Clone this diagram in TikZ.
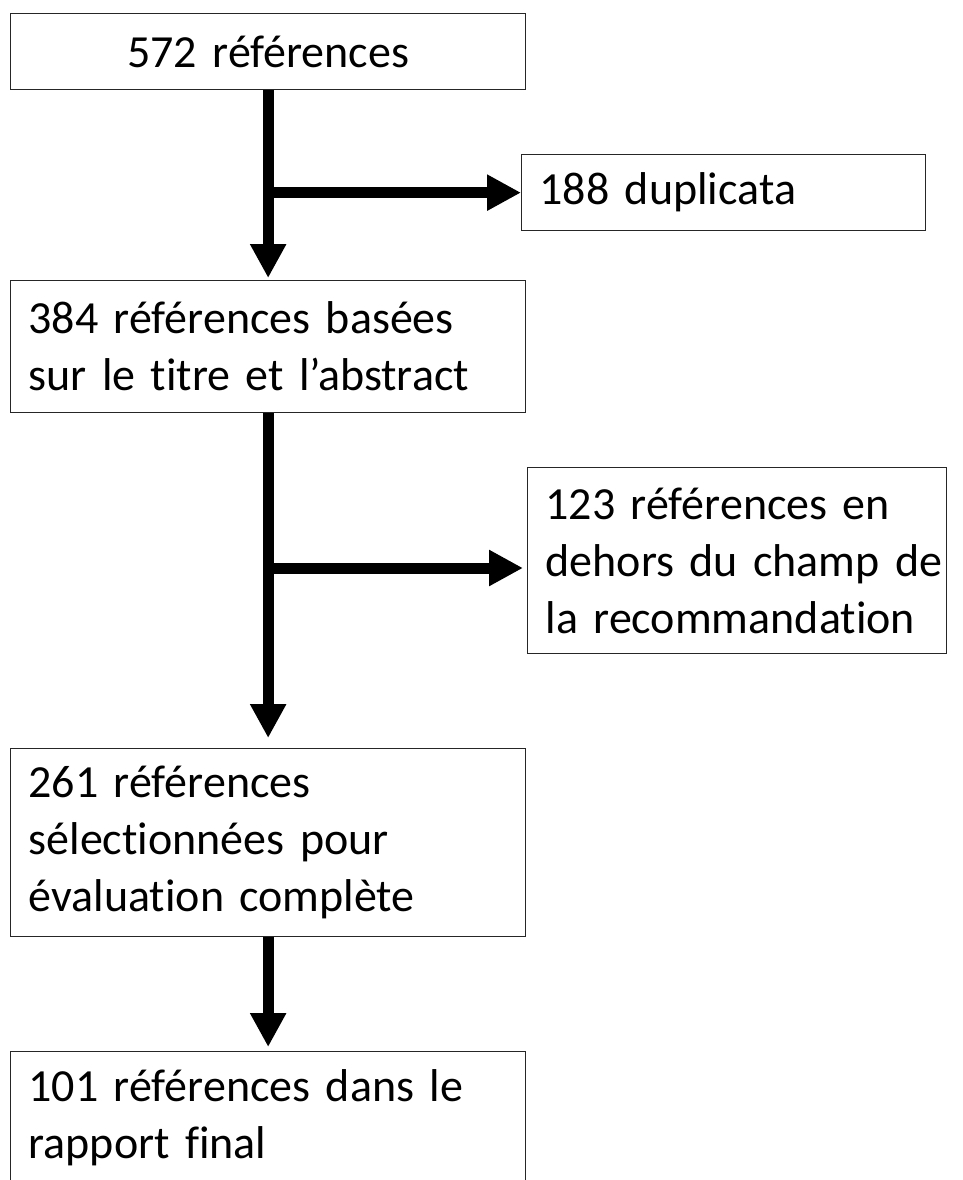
\documentclass[tikz,border=0pt]{standalone}
\usepackage{fontspec}
\setmainfont{Carlito}[Ligatures=NoCommon]
\usetikzlibrary{arrows.meta}
\newcommand\boxfont{\fontsize{46}{57}\selectfont\spaceskip=7.5pt plus 1pt minus 1pt\relax}
\begin{document}
\begin{tikzpicture}[x=1pt,y=-1pt,
 box/.style={draw=black!85,line width=1.3pt,anchor=north west,inner xsep=18pt,inner ysep=0pt,
  font=\boxfont,align=left},
 flow/.style={line width=11pt,-{Triangle[width=34pt,length=34pt]}}]
 \useasboundingbox (0,0) rectangle (963,1180);

 \node[box,text width=479pt,minimum height=76pt,align=center] (refs) at (10,13) {572 références};
 \node[box,text width=368pt,minimum height=76pt] (dupl) at (521,154) {188 duplicata};
 \node[box,text width=479pt,minimum height=132pt] (titre) at (10,280) {384 références basées\\sur le titre et l’abstract};
 \node[box,text width=383pt,minimum height=186pt] (champ) at (527,467) {123 références en\\\mbox{dehors du champ de}\\la recommandation};
 \node[box,text width=479pt,minimum height=188pt] (select) at (10,748) {261 références\\sélectionnées pour\\évaluation complète};
 \node[box,text width=479pt,minimum height=132pt] (final) at (10,1051) {101 références dans le\\rapport final};

 \coordinate (split) at (267.5,568);

 \draw[flow,shorten >=2pt] (refs.south) -- (titre.north);
 \draw[flow] (refs.south |- dupl.west) -- (dupl.west);
 \draw[flow,shorten >=10pt] (titre.south) -- (select.north);
 \draw[flow,shorten >=4pt] (split) -- (split -| champ.west);
 \draw[flow,shorten >=4pt] (select.south) -- (final.north);
\end{tikzpicture}
\end{document}
